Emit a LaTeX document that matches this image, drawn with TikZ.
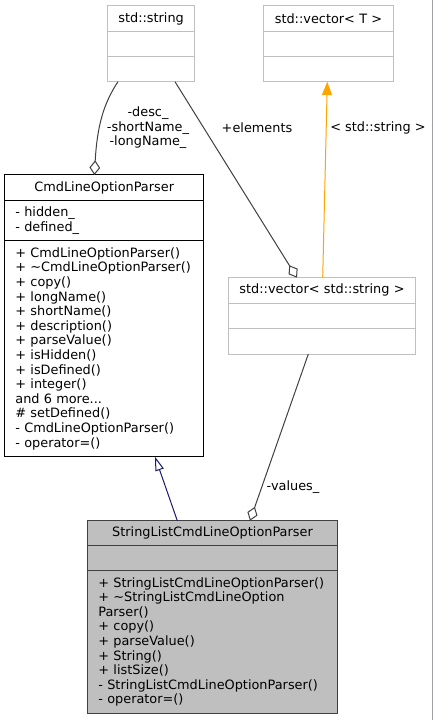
\documentclass[tikz,border=0pt]{standalone}
\usepackage{fontspec}
\setmainfont{DejaVu Sans}
\usetikzlibrary{arrows.meta,positioning,calc}
\definecolor{boxgray}{HTML}{BFBFBF}
\definecolor{edgegray}{HTML}{404040}
\definecolor{tplorange}{HTML}{FFA500}
\definecolor{inhnavy}{HTML}{191970}
\definecolor{framegray}{HTML}{A0A0A8}

\begin{document}
\begin{tikzpicture}[x=0.75pt, y=-0.75pt,
    font=\fontsize{9.65pt}{10.95pt}\selectfont,
    part/.style={draw, fill=white, line width=0.75pt, inner xsep=8pt, inner ysep=0pt,
        outer sep=0pt, anchor=north, align=left},
    title/.style={part, align=center},
    extpart/.style={draw=boxgray},
    curpart/.style={draw=edgegray, fill=boxgray},
    aggr/.style={draw=edgegray, line width=0.75pt,
        -{Diamond[open, fill=white, length=11pt, width=8pt]}},
    tpl/.style={draw=tplorange, line width=0.75pt, -{Triangle[length=10pt, width=7.5pt]}},
    inh/.style={draw=inhnavy, line width=0.75pt,
        -{Triangle[open, fill=white, length=10.5pt, width=6.5pt]}},
    lbl/.style={align=center, inner sep=0pt}]

    \useasboundingbox (0,0) rectangle (433,720);

    % Draw the std::string box
    \node[title, extpart, text width=49pt, minimum height=19.5pt] (str) at (151,5.7) {std::string};
    \node[part, extpart, text width=49pt, minimum height=18.75pt, below=0pt of str] (strA) {};
    \node[part, extpart, text width=49pt, minimum height=18.75pt, below=0pt of strA] (strM) {};

    % Draw the std::vector< T > box
    \node[title, extpart, text width=81.2pt, minimum height=19.5pt] (vecT) at (328.5,5.7) {std::vector< T >};
    \node[part, extpart, text width=81.2pt, minimum height=18.75pt, below=0pt of vecT] (vecTA) {};
    \node[part, extpart, text width=81.2pt, minimum height=18.75pt, below=0pt of vecTA] (vecTM) {};

    % Draw the CmdLineOptionParser box
    \node[title, text width=133.25pt, minimum height=19.5pt] (cmd) at (104.2,175) {CmdLineOptionParser};
    \node[part, text width=133.25pt, minimum height=29.8pt, below=0pt of cmd] (cmdA)
        {- hidden\_\\- defined\_};
    \node[part, text width=133.25pt, minimum height=162pt, below=0pt of cmdA] (cmdM)
        {+ CmdLineOptionParser()\\+~\textasciitilde CmdLineOptionParser()\\+ copy()\\+ longName()\\
         + shortName()\\+ description()\\+ parseValue()\\+ isHidden()\\+ isDefined()\\+ integer()\\
         and 6 more...\\\# setDefined()\\- CmdLineOptionParser()\\- operator=()};

    % Draw the std::vector< std::string > box
    \node[title, extpart, text width=124pt, minimum height=19pt] (vecS) at (322,277.7) {std::vector< std::string >};
    \node[part, extpart, text width=124pt, minimum height=19pt, below=0pt of vecS] (vecSA) {};
    \node[part, extpart, text width=124pt, minimum height=19.3pt, below=0pt of vecSA] (vecSM) {};

    % Draw the StringListCmdLineOptionParser box
    \node[title, curpart, text width=171.2pt, minimum height=18.75pt] (sl) at (212.5,520.7) {StringListCmdLineOptionParser};
    \node[part, curpart, text width=171.2pt, minimum height=18.5pt, below=0pt of sl] (slA) {};
    \node[part, curpart, text width=171.2pt, minimum height=107.25pt, below=0pt of slA] (slM)
        {+~StringListCmdLineOptionParser()\\+~\textasciitilde StringListCmdLineOption\\Parser()\\+ copy()\\
         + parseValue()\\+ String()\\+ listSize()\\- StringListCmdLineOptionParser()\\- operator=()};

    % Draw the string members of CmdLineOptionParser
    \draw[aggr] ($(strM.south)+(-33,0)$) .. controls ($(strM.south)+(-47,21)$) and ($(cmd.north)+(-7,-50)$) .. ($(cmd.north)+(-9.8,0)$);
    \node[lbl] (names) at (148,128) {-desc\_\\-shortName\_\\-longName\_};

    % Draw the elements of the vector of strings
    \draw[aggr] ($(strM.south)+(24,0)$) -- ($(vecS.north)+(-25,0)$);
    \node[lbl] (elements) at (257,128) {+elements};

    % Draw the template instance
    \draw[tpl] ($(vecS.north)+(0.7,0)$) -- ($(vecTM.south)+(-1.2,0)$);
    \node[lbl] (tplarg) at (378,128) {< std::string >};

    % Draw the inheritance
    \draw[inh] ($(sl.north)+(-35.2,0)$) -- ($(cmdM.south)+(50.8,0)$);

    % Draw the values member
    \draw[aggr] ($(vecSM.south)+(-13.7,0)$) -- ($(sl.north)+(37.5,0)$);
    \node[lbl] (values) at (293,487) {-values\_};

    % Draw the right frame line
    \draw[framegray, line width=0.75pt] (432.3,0) -- (432.3,720);

\end{tikzpicture}
\end{document}
